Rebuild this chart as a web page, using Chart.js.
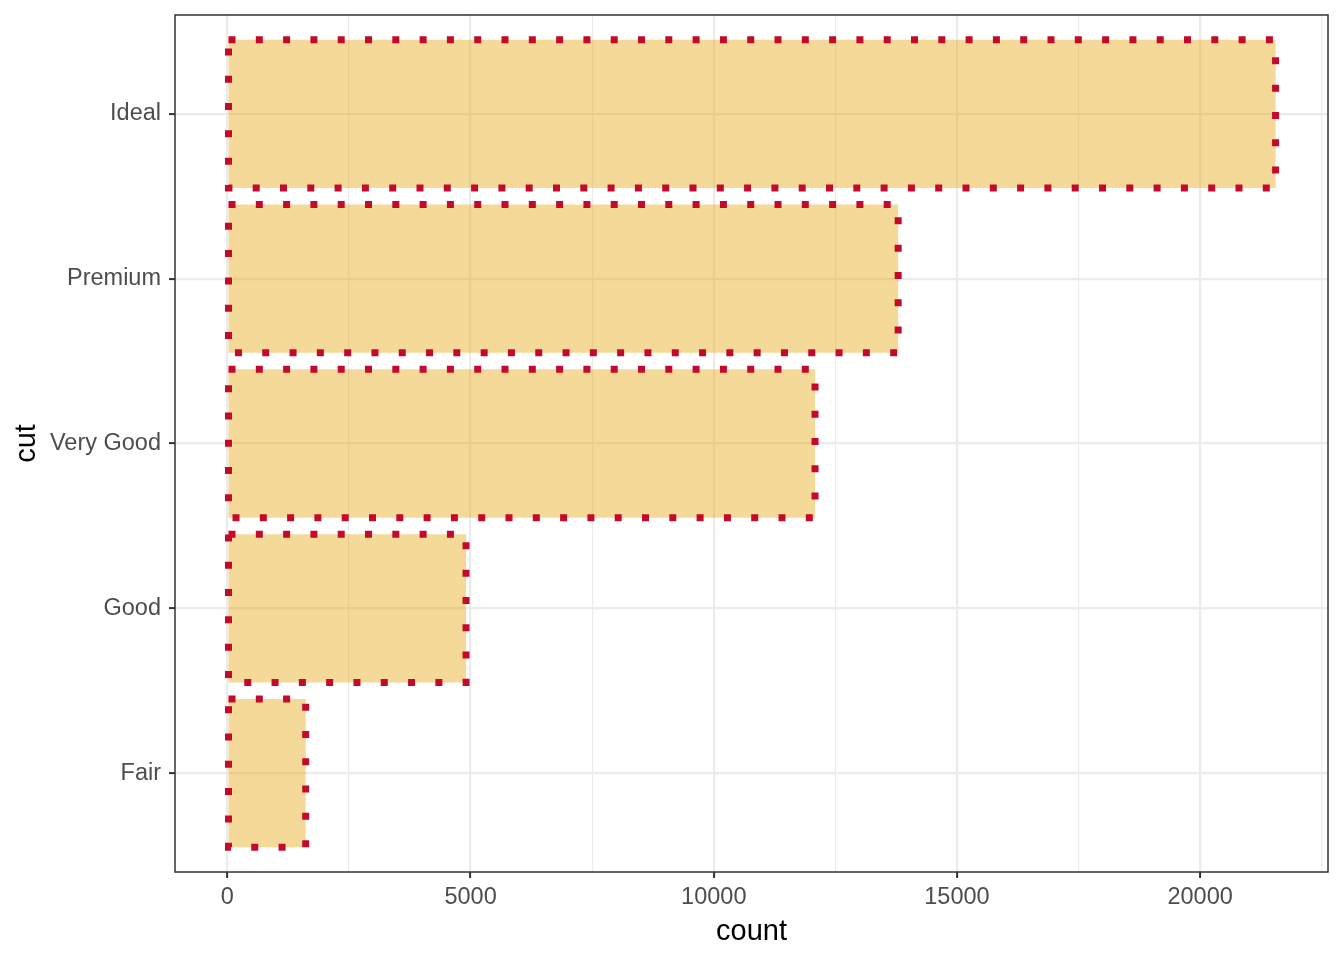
<!DOCTYPE html>
<html>
<head>
<meta charset="utf-8">
<script src="https://cdn.jsdelivr.net/npm/chart.js@4.4.0/dist/chart.umd.min.js"></script>
<style>
  html, body { margin: 0; padding: 0; background: #fff; }
  #wrap { width: 1344px; height: 960px; }
</style>
</head>
<body>
<div id="wrap"><canvas id="grafico"></canvas></div>
<script>
// diamonds: contagem por corte (de baixo para cima)
const CUTS = ['Fair', 'Good', 'Very Good', 'Premium', 'Ideal'];
const COUNTS = [1610, 4906, 12082, 13791, 21551];
const X_TICKS = [0, 2500, 5000, 7500, 10000, 12500, 15000, 17500, 20000, 22500];
const Y_TICKS = [1, 2, 3, 4, 5];

const FONTE = 'Liberation Sans, Arial, Helvetica, sans-serif';
const xMax = Math.max(...COUNTS);

/* sem folga extra para os rotulos das pontas */
function semFolga(s) {
  s.paddingTop = 0; s.paddingBottom = 0; s.paddingLeft = 0; s.paddingRight = 0;
}

/* contorno pontilhado das barras + borda do painel */
const pontilhado = {
  id: 'pontilhado',
  afterDatasetsDraw(chart) {
    const ctx = chart.ctx;
    const meta = chart.getDatasetMeta(0);
    ctx.save();
    ctx.strokeStyle = '#C40A2C';
    ctx.lineWidth = 7;
    ctx.lineCap = 'butt';
    ctx.setLineDash([7, 20.3]);
    meta.data.forEach(bar => {
      const p = bar.getProps(['x', 'y', 'base', 'height'], true);
      const top = p.y - p.height / 2, bottom = p.y + p.height / 2;
      const left = Math.min(p.base, p.x), right = Math.max(p.base, p.x);
      ctx.beginPath();
      ctx.moveTo(left, top);
      ctx.lineTo(right, top);
      ctx.lineTo(right, bottom);
      ctx.lineTo(left, bottom);
      ctx.closePath();
      ctx.stroke();
    });
    ctx.restore();
  },
  afterDraw(chart) {
    const a = chart.chartArea;
    const ctx = chart.ctx;
    ctx.save();
    ctx.strokeStyle = '#333333';
    ctx.lineWidth = 1.5;
    ctx.strokeRect(a.left, a.top, a.right - a.left, a.bottom - a.top);
    ctx.restore();
  }
};

new Chart(document.getElementById('grafico').getContext('2d'), {
  type: 'bar',
  data: {
    datasets: [{
      data: COUNTS.map((c, i) => ({ x: c, y: Y_TICKS[i] })),
      backgroundColor: 'rgba(230, 159, 0, 0.4)',
      borderWidth: 0,
      barPercentage: 0.9,
      categoryPercentage: 1,
    }],
  },
  options: {
    indexAxis: 'y',
    responsive: true,
    maintainAspectRatio: false,
    animation: false,
    layout: { padding: { top: 15, right: 16, left: 0, bottom: 0 } },
    plugins: { legend: { display: false }, tooltip: { enabled: false } },
    scales: {
      x: {
        type: 'linear',
        position: 'bottom',
        min: -0.05 * xMax,
        max: 1.05 * xMax,
        afterBuildTicks: (s) => { s.ticks = X_TICKS.map(v => ({ value: v })); },
        afterFit: (s) => { s.height = 88; semFolga(s); },
        border: { display: false },
        grid: {
          color: '#EBEBEB',
          lineWidth: (c) => (c.tick && c.tick.value % 5000 === 0) ? 2.2 : 1.1,
          tickColor: (c) => (c.tick && c.tick.value % 5000 === 0) ? '#333333' : 'rgba(0,0,0,0)',
          tickLength: 6,
          tickWidth: 2,
        },
        ticks: {
          autoSkip: false,
          maxRotation: 0,
          padding: 5,
          color: '#4D4D4D',
          font: { family: FONTE, size: 23.5 },
          callback: (v) => v % 5000 === 0 ? String(v) : '',
        },
        title: {
          display: true,
          text: 'count',
          color: '#000000',
          font: { family: FONTE, size: 29 },
          padding: { top: 0, bottom: 11 },
        },
      },
      y: {
        type: 'linear',
        position: 'left',
        offset: false,
        min: 0.4,
        max: 5.6,
        afterBuildTicks: (s) => { s.ticks = Y_TICKS.map(v => ({ value: v })); },
        afterFit: (s) => { s.width = 175; semFolga(s); },
        border: { display: false },
        grid: {
          offset: false,
          color: '#EBEBEB',
          lineWidth: 2.2,
          tickColor: '#333333',
          tickLength: 6,
          tickWidth: 2,
        },
        ticks: {
          autoSkip: false,
          padding: 8,
          color: '#4D4D4D',
          font: { family: FONTE, size: 23.5 },
          callback: (v) => CUTS[v - 1] || '',
        },
        title: {
          display: true,
          text: 'cut',
          color: '#000000',
          font: { family: FONTE, size: 29 },
          padding: { top: 10, bottom: 0 },
        },
      },
    },
  },
  plugins: [pontilhado],
});
</script>
</body>
</html>
